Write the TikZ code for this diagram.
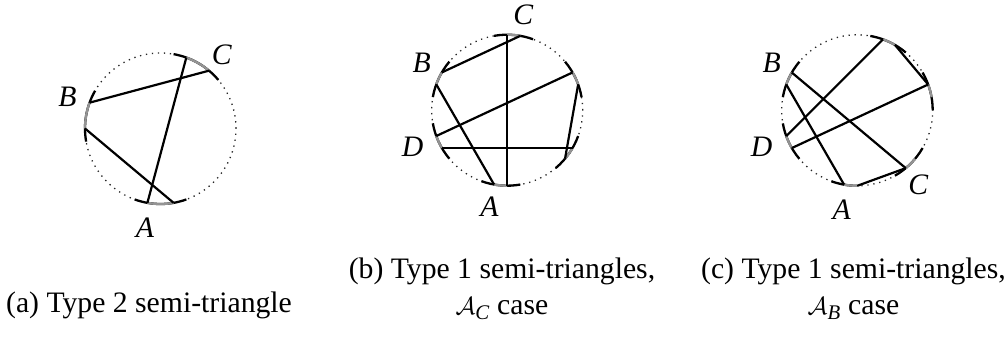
\documentclass[tikz,border=0pt]{standalone}
\usepackage{amsmath}
\usepackage{fontspec}
\setmainfont{Liberation Serif}
\begin{document}
\begin{tikzpicture}[x=1bp,y=1bp,
  dotcirc/.style={line width=1.3bp, dash pattern=on 1.3bp off 4.7bp, black!85},
  ivl/.style={line width=2.3bp, black},
  gaparc/.style={line width=2.3bp, black!42},
  chord/.style={line width=2.2bp, black},
  lbl/.style={font=\fontsize{29.7bp}{34bp}\selectfont\itshape, inner sep=0pt},
  captext/.style={font=\fontsize{29.7bp}{36bp}\selectfont, align=center, inner sep=0pt}]
\useasboundingbox (0,0) rectangle (1007,340);
\foreach \p/\cx/\cy in {a/160.5/211.5, b/507.2/229.8, c/857.2/229.7} {
  \coordinate (c\p) at (\cx,\cy);
  \draw[dotcirc] (c\p) circle[radius=75.5bp];
  \foreach \t in {0,10,...,350} \path (c\p) ++(\t:75.5bp) coordinate (\p\t);
}
% ---------- panel (a)
\foreach \s/\e in {40/80,150/190,250/290}
  \draw[ivl] (a\s) arc[start angle=\s, end angle=\e, radius=75.5bp];
\foreach \s/\e in {50/70,160/180,260/280}
  \draw[gaparc] (a\s) arc[start angle=\s, end angle=\e, radius=75.5bp];
\draw[chord] (a260) -- (a70);
\draw[chord] (a160) -- (a50);
\draw[chord] (a180) -- (a280);
\node[lbl] (aC) at (221.7,285) {C};
\node[lbl] (aB) at (67.5,243) {B};
\node[lbl] (aA) at (145,112) {A};
% ---------- panel (b)
\foreach \s/\e in {70/100,140/170,190/220,250/280,310/340,10/40}
  \draw[ivl] (b\s) arc[start angle=\s, end angle=\e, radius=75.5bp];
\foreach \s/\e in {80/90,150/160,200/210,260/270,320/330,20/30}
  \draw[gaparc] (b\s) arc[start angle=\s, end angle=\e, radius=75.5bp];
\draw[chord] (b80) -- (b150);
\draw[chord] (b90) -- (b270);
\draw[chord] (b160) -- (b260);
\draw[chord] (b200) -- (b30);
\draw[chord] (b210) -- (b330);
\draw[chord] (b20) -- (b320);
\node[lbl] (bC) at (523.3,325) {C};
\node[lbl] (bB) at (421.7,276.7) {B};
\node[lbl] (bD) at (412.7,193.3) {D};
\node[lbl] (bA) at (489.5,133.5) {A};
% ---------- panel (c)
\foreach \s/\e in {50/80,140/170,190/220,250/270,300/330,0/30}
  \draw[ivl] (c\s) arc[start angle=\s, end angle=\e, radius=75.5bp];
\foreach \s/\e in {60/70,150/160,200/210,260/270,310/320,10/20}
  \draw[gaparc] (c\s) arc[start angle=\s, end angle=\e, radius=75.5bp];
\draw[chord] (c150) -- (c310);
\draw[chord] (c160) -- (c260);
\draw[chord] (c200) -- (c70);
\draw[chord] (c210) -- (c20);
\draw[chord] (c60) -- (c20);
\draw[chord] (c270) -- (c310);
\node[lbl] (cB) at (771.7,276.7) {B};
\node[lbl] (cD) at (761.7,193.3) {D};
\node[lbl] (cA) at (841.7,130) {A};
\node[lbl] (cC) at (918.3,155) {C};
% ---------- captions
\node[captext] (capa) at (149,35) {(a) Type 2 semi-triangle};
\node[captext] (capb) at (502,51) {(b) Type 1 semi-triangles,\\ $\mathcal{A}_{\textit{C}}$ case};
\node[captext] (capc) at (853.5,51) {(c) Type 1 semi-triangles,\\ $\mathcal{A}_{\textit{B}}$ case};
\end{tikzpicture}
\end{document}
